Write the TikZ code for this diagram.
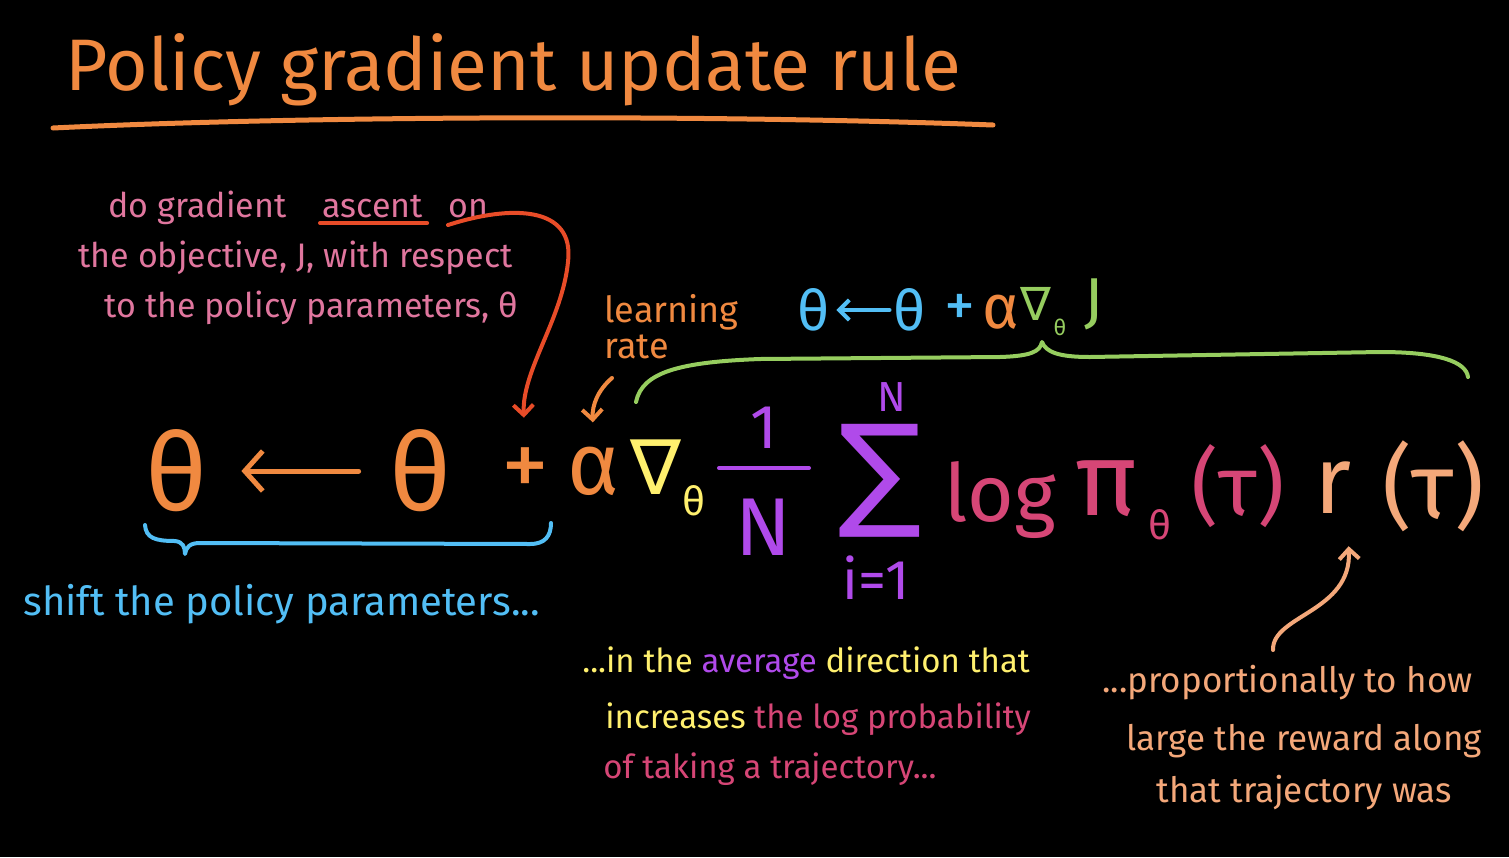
\documentclass[tikz,border=0pt]{standalone}
\usepackage{fontspec}
\setmainfont{Fira Sans}
\newfontfamily\symfont{DejaVu Sans}
\usetikzlibrary{arrows.meta,positioning}

\definecolor{polorange}{RGB}{240,137,64}
\definecolor{notepink}{RGB}{224,118,158}
\definecolor{ascred}{RGB}{232,76,40}
\definecolor{parblue}{RGB}{82,190,245}
\definecolor{objgreen}{RGB}{150,205,95}
\definecolor{dirlemon}{RGB}{255,240,110}
\definecolor{avgviolet}{RGB}{176,74,234}
\definecolor{logrose}{RGB}{214,70,118}
\definecolor{rewpeach}{RGB}{244,168,122}

\newcommand{\fs}[1]{\fontsize{#1}{#1}\selectfont}

\tikzset{
  txt/.style={inner sep=0pt, anchor=base west},
  sym/.style={inner sep=0pt},
  pen/.style={line width=2pt, line cap=round, line join=round},
  barb/.style={-{Straight Barb[length=5pt,width=10pt]}},
  bigbarb/.style={-{Straight Barb[length=9pt,width=20pt]}},
}

\begin{document}
\begin{tikzpicture}[x=0.5pt,y=-0.5pt]
\fill[black] (0,0) rectangle (1509,857);

% title
\node[txt, text=polorange, font=\fs{36.5}] (title) at (65,90) {Policy gradient update rule};
\draw[pen, line width=2.5pt, polorange] (53,128) .. controls (300,116) and (700,114) .. (993,125);

% what the update does
\node[txt, text=notepink, font=\fs{17}] (grad) at (108,217) {do gradient};
\node[txt, text=notepink, font=\fs{17}] (ascent) at (322,217) {ascent};
\node[txt, text=notepink, font=\fs{17}] (on) at (448,217) {on};
\node[txt, text=notepink, font=\fs{17}] (obj) at (78,267) {the objective, J, with respect};
\node[txt, text=notepink, font=\fs{17}] (wrt) at (104,317) {to the policy parameters, θ};
\draw[pen, ascred] ([xshift=-1pt,yshift=-3pt]ascent.base west) -- ([xshift=2pt,yshift=-3pt]ascent.base east);

\node[txt, text=polorange, font=\fs{18}] (learn) at (604,322) {learning};
\node[txt, text=polorange, font=\fs{18}] (rate) at (604,358) {rate};

% short form
\node[sym, text=parblue, font=\fs{28}] (tth1) at (814,310) {θ};
\node[sym, text=parblue, font=\fs{28}] (tth2) at (910,310) {θ};
\node[sym, text=parblue, font=\fs{31}] (tplus) at (960,310) {+};
\node[sym, text=polorange, font=\fs{31}] (talpha) at (1001,312) {α};
\node[sym, text=objgreen, font=\symfont\fs{23}] (tnabla) at (1036,304) {∇};
\node[sym, text=objgreen, font=\fs{11}] (tsub) at (1060,327) {θ};
\node[sym, text=objgreen, font=\fs{31}] (tJ) at (1094,304) {J};
\draw[pen, parblue, barb, shorten <=2pt, shorten >=3pt] (tth2) -- (tth1);

% update rule
\node[sym, text=polorange, font=\fs{54}] (th1) at (176,471) {θ};
\node[sym, text=polorange, font=\fs{54}] (th2) at (420,471) {θ};
\node[sym, text=polorange, font=\fs{48}] (plus) at (525,473) {+};
\node[sym, text=polorange, font=\fs{44}] (alpha) at (594,471) {α};
\node[sym, text=dirlemon, font=\symfont\fs{38}] (nabla) at (656,467) {∇};
\node[sym, text=dirlemon, font=\fs{20}] (nablasub) at (694,501) {θ};
\node[sym, text=avgviolet, font=\fs{31}] (one) at (764,428) {1};
\draw[pen, avgviolet] (719,468) -- (809,468);
\node[sym, text=avgviolet, font=\fs{41}] (bigN) at (763,527) {N};
\node[sym, text=avgviolet, font=\symfont\fs{62}] (sum) at (880,481) {∑};
\node[sym, text=avgviolet, font=\fs{21}] (sumtop) at (892,397) {N};
\node[sym, text=avgviolet, font=\fs{28}] (sumbot) at (876,578) {i=1};
\node[sym, text=logrose, font=\fs{40}] (log) at (1000,500) {log};
\node[sym, text=logrose, font=\fs{52}] (pi) at (1106,489) {π};
\node[sym, text=logrose, font=\fs{20}] (pisub) at (1160,525) {θ};
\node[sym, text=logrose, font=\fs{42}] (traj) at (1238,486) {(τ)};
\node[sym, text=rewpeach, font=\fs{48}] (rew) at (1333,488) {r};
\node[sym, text=rewpeach, font=\fs{46}] (rtraj) at (1433,486) {(τ)};
\draw[pen, line width=2.5pt, polorange, bigbarb, shorten <=15pt, shorten >=17pt] (th2) -- (th1);

% arrows into the rule
\coordinate (redstart) at ([yshift=-4pt]on.base west);
\draw[pen, ascred, barb, shorten >=15pt] (redstart) .. controls (510,205) and (575,205) .. (568,262) .. controls (562,320) and (522,370) .. (plus.north);
\coordinate (lrstart) at (612,378);
\draw[pen, polorange, barb, shorten >=12pt] (lrstart) .. controls (598,390) and (592,405) .. (alpha.north);

% braces
\draw[pen, objgreen] (636,402) .. controls (642,372) and (680,362) .. (760,359) -- (1000,357) .. controls (1030,356) and (1040,352) .. (1042,342) .. controls (1046,352) and (1058,357) .. (1090,357) -- (1380,352) .. controls (1440,352) and (1466,362) .. (1468,377);
\draw[pen, parblue] (145,525) .. controls (146,538) and (155,541) .. (175,541) .. controls (183,542) and (185,547) .. (185,554) .. controls (186,547) and (190,543) .. (200,543) -- (530,544) .. controls (545,544) and (551,536) .. (551,523);

% readings
\node[txt, text=parblue, font=\fs{20}] (shift) at (23,615) {shift the policy parameters...};
\node[txt, text=dirlemon, font=\fs{16.5}] (dir) at (582,672) {...in the {\color{avgviolet}average} direction that};
\node[txt, text=dirlemon, font=\fs{16.5}] (inc) at (605,728) {increases {\color{logrose}the log probability}};
\node[txt, text=logrose, font=\fs{16.5}] (take) at (603,778) {of taking a trajectory...};
\node[txt, text=rewpeach, font=\fs{17.5}] (prop) at (1102,692) {...proportionally to how};
\node[txt, text=rewpeach, font=\fs{17.5}] (large) at (1126,750) {large the reward along};
\node[txt, text=rewpeach, font=\fs{17.5}] (was) at (1156,802) {that trajectory was};
\coordinate (propstart) at (1273,650);
\draw[pen, rewpeach, barb, shorten >=16pt] (propstart) .. controls (1272,615) and (1352,612) .. ([xshift=7pt]rew.south);
\end{tikzpicture}
\end{document}
